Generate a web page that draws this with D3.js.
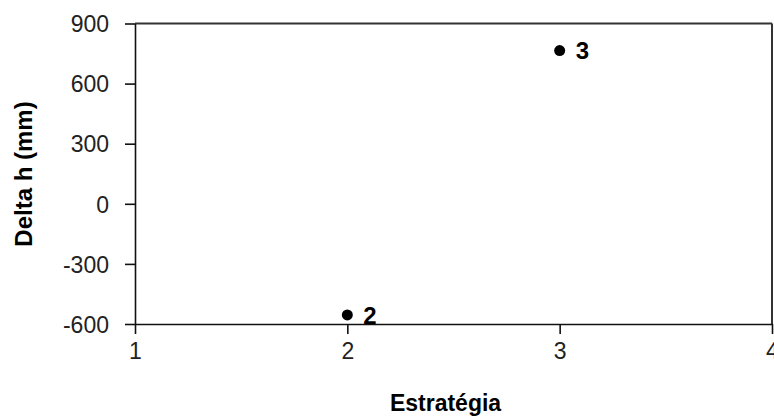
<!DOCTYPE html>
<html><head><meta charset="utf-8">
<script src="https://cdn.jsdelivr.net/npm/d3@7"></script>
<style>
html,body{margin:0;padding:0;background:#fff;overflow:hidden;}
svg{display:block;}
text{font-family:"Liberation Sans",Arial,sans-serif;}
</style></head>
<body>
<script>
const strategies = [2, 3];
const deltaH = [-555, 765];
const pointLabels = ["2", "3"];
const xTicks = [1, 2, 3, 4];
const yTicks = [-600, -300, 0, 300, 600, 900];
const xTitle = "Estratégia";
const yTitle = "Delta h (mm)";

(function () {
const W = 774, H = 418;
const mLeft = 135, mRight = 772, mTop = 23.5, mBottom = 324;

const svg = d3.select("body").append("svg").attr("width", W).attr("height", H);

const x = d3.scaleLinear().domain([1, 4]).range([mLeft, mRight]);
const y = d3.scaleLinear().domain([-600, 900]).range([mBottom, mTop]);

// frame top and right
svg.append("line").attr("x1", mLeft).attr("x2", mRight).attr("y1", mTop).attr("y2", mTop)
  .attr("stroke", "#333").attr("stroke-width", 2);
svg.append("line").attr("x1", mRight).attr("x2", mRight).attr("y1", mTop).attr("y2", mBottom)
  .attr("stroke", "#333").attr("stroke-width", 2);

// y axis
const yAxis = svg.append("g").attr("transform", `translate(${mLeft},0)`)
  .call(d3.axisLeft(y).tickValues(yTicks).tickFormat(d => String(d)).tickSize(10).tickSizeOuter(0).tickPadding(16));
yAxis.select(".domain").attr("stroke", "#111").attr("stroke-width", 1.6);
yAxis.selectAll(".tick line").attr("stroke", "#111").attr("stroke-width", 1.6);
yAxis.selectAll("text").attr("font-size", 23).attr("fill", "#222").attr("dy", "0.36em")
  .attr("font-family", "Liberation Sans, Arial, sans-serif");

// x axis
const xAxis = svg.append("g").attr("transform", `translate(0,${mBottom})`)
  .call(d3.axisBottom(x).tickValues(xTicks).tickFormat(d => String(d)).tickSize(10).tickSizeOuter(0).tickPadding(9));
xAxis.select(".domain").attr("stroke", "#111").attr("stroke-width", 1.6);
xAxis.selectAll(".tick line").attr("stroke", "#111").attr("stroke-width", 1.6);
xAxis.selectAll("text").attr("font-size", 23).attr("fill", "#222")
  .attr("font-family", "Liberation Sans, Arial, sans-serif");

// points
const pts = strategies.map((s, i) => ({s, v: deltaH[i], l: pointLabels[i]}));
svg.selectAll("circle.pt").data(pts).enter().append("circle")
  .attr("cx", d => x(d.s)).attr("cy", d => y(d.v)).attr("r", 5.5).attr("fill", "#000");
svg.selectAll("text.pl").data(pts).enter().append("text")
  .attr("x", d => x(d.s) + 16).attr("y", d => y(d.v)).attr("dy", "0.36em")
  .attr("font-size", 24).attr("font-weight", "bold").attr("fill", "#000").text(d => d.l);

// titles
svg.append("text").attr("x", (mLeft + mRight) / 2 - 8).attr("y", 411)
  .attr("text-anchor", "middle").attr("font-size", 23).attr("font-weight", "bold").text(xTitle);
svg.append("text").attr("transform", "translate(23,174) rotate(-90)").attr("dy", "0.36em")
  .attr("text-anchor", "middle").attr("font-size", 24).attr("font-weight", "bold").text(yTitle);
})();
</script>
</body></html>
